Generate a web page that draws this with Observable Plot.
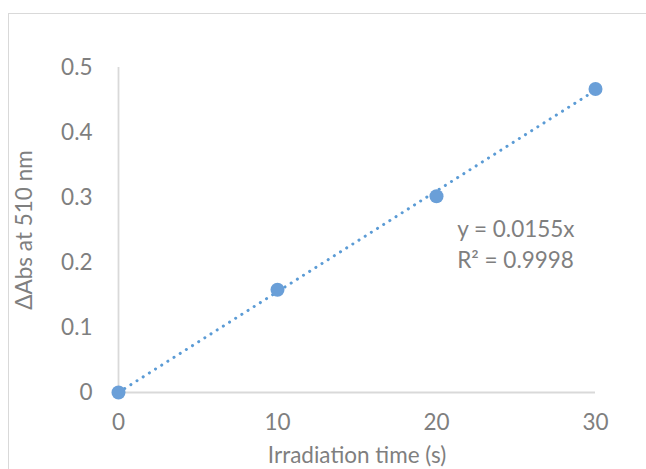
<!DOCTYPE html>
<html>
<head>
<meta charset="utf-8">
<script src="https://cdn.jsdelivr.net/npm/d3@7"></script>
<script src="https://cdn.jsdelivr.net/npm/@observablehq/plot@0.6"></script>
<style>
  html, body { margin: 0; padding: 0; background: #fff; overflow: hidden; }
  #wrap { position: relative; width: 646px; height: 469px; overflow: hidden; }
  #frame { position: absolute; left: 8px; top: 13px; width: 700px; height: 520px; border: 1.5px solid #d9d9d9; box-sizing: border-box; }
  #chart { position: absolute; left: 0; top: 0; }
</style>
</head>
<body>
<div id="wrap"><div id="frame"></div><div id="chart"></div></div>
<script>
const times = [0, 10, 20, 30];
const deltaAbs = [0, 0.158, 0.302, 0.467];
const xTicks = [0, 10, 20, 30];
const yTicks = [0, 0.1, 0.2, 0.3, 0.4, 0.5];
const slope = 0.0155;
const r2 = 0.9998;
const equationLines = [`y = ${slope}x`, `R² = ${r2}`];
const labelPos = {x: 21.3, y: [0.251, 0.202]};

const points = times.map((t, i) => ({t, v: deltaAbs[i]}));
const trend = [times[0], times[times.length - 1]].map(t => ({t, v: slope * t}));
const labels = equationLines.map((s, i) => ({s, x: labelPos.x, y: labelPos.y[i]}));

const blue = "#6a9fd8";
const grey = "#7f7f7f";
const FS = 22.5;
const font = "Lato, 'Open Sans', sans-serif";

const chart = Plot.plot({
  width: 646,
  height: 469,
  marginLeft: 118,
  marginRight: 51,
  marginTop: 67,
  marginBottom: 77,
  style: {fontFamily: font, fontSize: FS + "px", color: grey, background: "transparent", overflow: "visible"},
  x: {domain: [0, 30]},
  y: {domain: [0, 0.5]},
  marks: [
    Plot.axisX(xTicks, {tickSize: 0, tickPadding: 22, fontSize: FS, fill: grey, label: "Irradiation time (s)", labelAnchor: "center", labelOffset: 70, labelArrow: "none"}),
    Plot.axisY(yTicks, {tickSize: 0, tickPadding: 26, fontSize: FS, fill: grey, tickFormat: d => String(+d.toFixed(1)), label: "ΔAbs at 510 nm", labelAnchor: "center", labelOffset: 102, labelArrow: "none"}),
    Plot.ruleY([0], {stroke: "#d9d9d9", strokeWidth: 1.8}),
    Plot.ruleX([0], {stroke: "#d9d9d9", strokeWidth: 1.8}),
    Plot.line(trend, {x: "t", y: "v", stroke: "#5b9bd5", strokeWidth: 3, strokeDasharray: "0.1 7.2", strokeLinecap: "round"}),
    Plot.dot(points, {x: "t", y: "v", r: 7, fill: blue, stroke: "none"}),
    Plot.text(labels, {x: "x", y: "y", text: "s", textAnchor: "start", fill: grey, fontSize: FS})
  ]
});
document.getElementById("chart").appendChild(chart);
</script>
</body>
</html>
